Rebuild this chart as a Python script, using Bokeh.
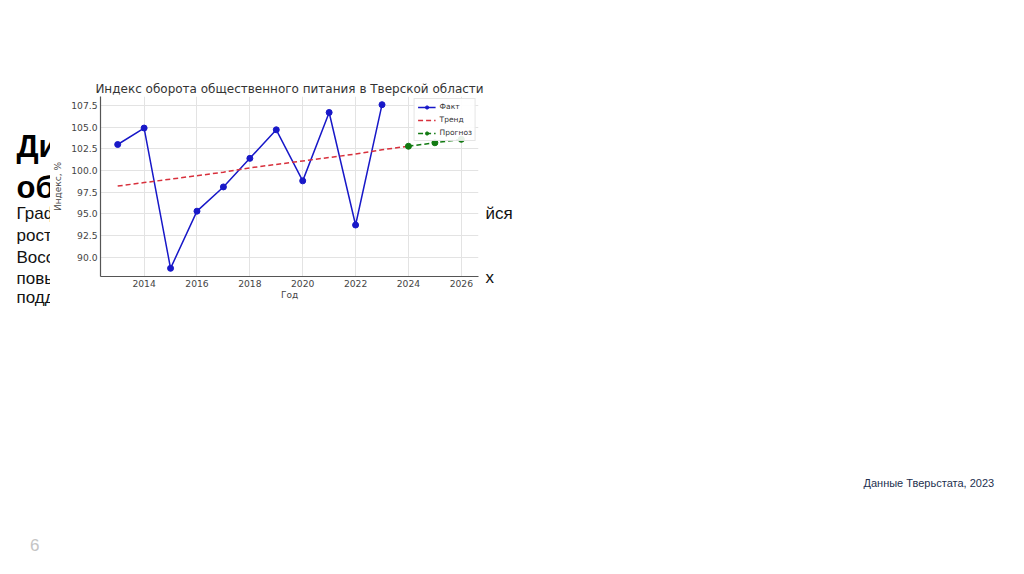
from bokeh.plotting import figure
from bokeh.layouts import row
from bokeh.models import FixedTicker, PrintfTickFormatter, Legend, LegendItem, Range1d
from bokeh.core.properties import value
from bokeh.embed import file_html
from bokeh.resources import INLINE

# ---- data ----
years_fact = [2013, 2014, 2015, 2016, 2017, 2018, 2019, 2020, 2021, 2022, 2023]
fact = [103.0, 104.9, 88.7, 95.3, 98.1, 101.4, 104.7, 98.8, 106.7, 93.7, 107.6]
years_trend = [2013, 2014, 2015, 2016, 2017, 2018, 2019, 2020, 2021, 2022, 2023, 2024]
trend = [98.2, 98.6, 99.0, 99.4, 99.8, 100.3, 100.7, 101.1, 101.5, 101.9, 102.4, 102.8]
years_fc = [2024, 2025, 2026]
forecast = [102.8, 103.2, 103.6]
x_ticks = [2014, 2016, 2018, 2020, 2022, 2024, 2026]
y_ticks = [90.0, 92.5, 95.0, 97.5, 100.0, 102.5, 105.0, 107.5]

title_text = "Индекс оборота общественного питания в Тверской области"
x_label = "Год"
y_label = "Индекс, %"
legend_labels = ["Факт", "Тренд", "Прогноз"]

W, H = 1024, 574
CL, CR = 50, 484              # pasted chart image horizontal extent (page px)
FL, FR, FT, FB = 98, 478, 96, 276  # chart frame edges (page px)
DY = -6                        # baseline correction for slide text


def no_align(f):
    try:
        f.frame_align = False
    except Exception:
        pass


def blank_fig(x0, x1):
    f = figure(width=x1 - x0, height=H, output_backend="svg", toolbar_location=None,
               x_range=Range1d(x0, x1), y_range=Range1d(H, 0),
               x_axis_location=None, y_axis_location=None, min_border=0)
    f.outline_line_color = None
    f.grid.visible = False
    f.background_fill_color = "white"
    f.border_fill_color = "white"
    no_align(f)
    return f


def put(f, text, x, y, size, color="#111111", font="Liberation Sans", style="normal"):
    f.text(x=[x], y=[y + DY], text=[text], text_font=value(font), text_font_size=size,
           text_color=color, text_font_style=style, text_align="left", text_baseline="alphabetic")

# ---- left slide strip ----
left = blank_fig(0, CL)
put(left, "Динамика", 16, 152, "31px", color="#000000", style="bold")
put(left, "оборота", 16, 193, "31px", color="#000000", style="bold")
put(left, "График", 16, 219, "17px")
put(left, "роста", 16, 240.5, "17px")
put(left, "Восстановление", 16, 262.5, "17px")
put(left, "повышение", 16, 284, "17px")
put(left, "поддержки", 16, 303, "17px")
put(left, "6", 29.5, 550, "17px", color="#c4c4c4")

# ---- chart ----
p = figure(width=CR - CL, height=H, output_backend="svg", toolbar_location=None,
           x_range=Range1d(2012.35, 2026.65), y_range=Range1d(87.755, 108.545),
           min_border_left=FL - CL, min_border_right=CR - FR, min_border_top=FT, min_border_bottom=H - FB,
           title=title_text)
no_align(p)
p.outline_line_color = None
p.background_fill_color = "white"
p.border_fill_color = "white"
p.title.align = "center"
p.title.text_font = "DejaVu Sans"
p.title.text_font_size = "12px"
p.title.text_font_style = "normal"
p.title.text_color = "#333333"
p.title.standoff = 2

for ax in (p.xaxis[0], p.yaxis[0]):
    ax.axis_line_color = "#555555"
    ax.axis_line_width = 1.2
    ax.major_tick_line_color = None
    ax.minor_tick_line_color = None
    ax.major_tick_out = 0
    ax.major_tick_in = 0
    ax.minor_tick_out = 0
    ax.minor_tick_in = 0
    ax.major_label_text_font = "DejaVu Sans"
    ax.major_label_text_font_size = "9.2px"
    ax.major_label_text_color = "#444444"
    ax.axis_label_text_font = "DejaVu Sans"
    ax.axis_label_text_font_size = "9px"
    ax.axis_label_text_font_style = "normal"
    ax.axis_label_text_color = "#444444"

p.xaxis.ticker = FixedTicker(ticks=x_ticks)
p.yaxis.ticker = FixedTicker(ticks=y_ticks)
p.yaxis.formatter = PrintfTickFormatter(format="%.1f")
p.xaxis.major_label_standoff = 3
p.yaxis.major_label_standoff = 3
p.xaxis.axis_label = x_label
p.yaxis.axis_label = y_label
p.xaxis.axis_label_standoff = 0
p.yaxis.axis_label_standoff = 5

p.xgrid.grid_line_color = "#e3e3e3"
p.ygrid.grid_line_color = "#e3e3e3"

blue = "#1818c8"
red = "#d8303c"
green = "#127a12"

r_fl = p.line(years_fact, fact, line_color=blue, line_width=1.5)
r_fs = p.scatter(years_fact, fact, size=6, fill_color=blue, line_color=blue)
r_t = p.line(years_trend, trend, line_color=red, line_width=1.5, line_dash="5 3")
r_pl = p.line(years_fc, forecast, line_color=green, line_width=1.5, line_dash="5 3")
r_ps = p.scatter(years_fc, forecast, size=6, fill_color=green, line_color=green)

legend = Legend(items=[LegendItem(label=legend_labels[0], renderers=[r_fl, r_fs]),
                       LegendItem(label=legend_labels[1], renderers=[r_t]),
                       LegendItem(label=legend_labels[2], renderers=[r_pl, r_ps])],
                location="top_right")
legend.label_text_font = "DejaVu Sans"
legend.label_text_font_size = "7.5px"
legend.label_text_color = "#333333"
legend.glyph_width = 18
legend.glyph_height = 8
legend.label_height = 8
legend.spacing = 4
legend.padding = 3
legend.margin = 2
legend.label_standoff = 4
legend.border_line_color = "#cccccc"
legend.background_fill_alpha = 0.9
p.add_layout(legend)

# ---- right slide area ----
right = blank_fig(CR, W)
put(right, "йся", 485, 219, "17px")
put(right, "х", 485, 283, "17px")
put(right, "Данные Тверьстата, 2023", 863, 488, "11px", color="#23304f")

layout = row(left, p, right, spacing=0)
open("out.html", "w").write(file_html(layout, INLINE))
